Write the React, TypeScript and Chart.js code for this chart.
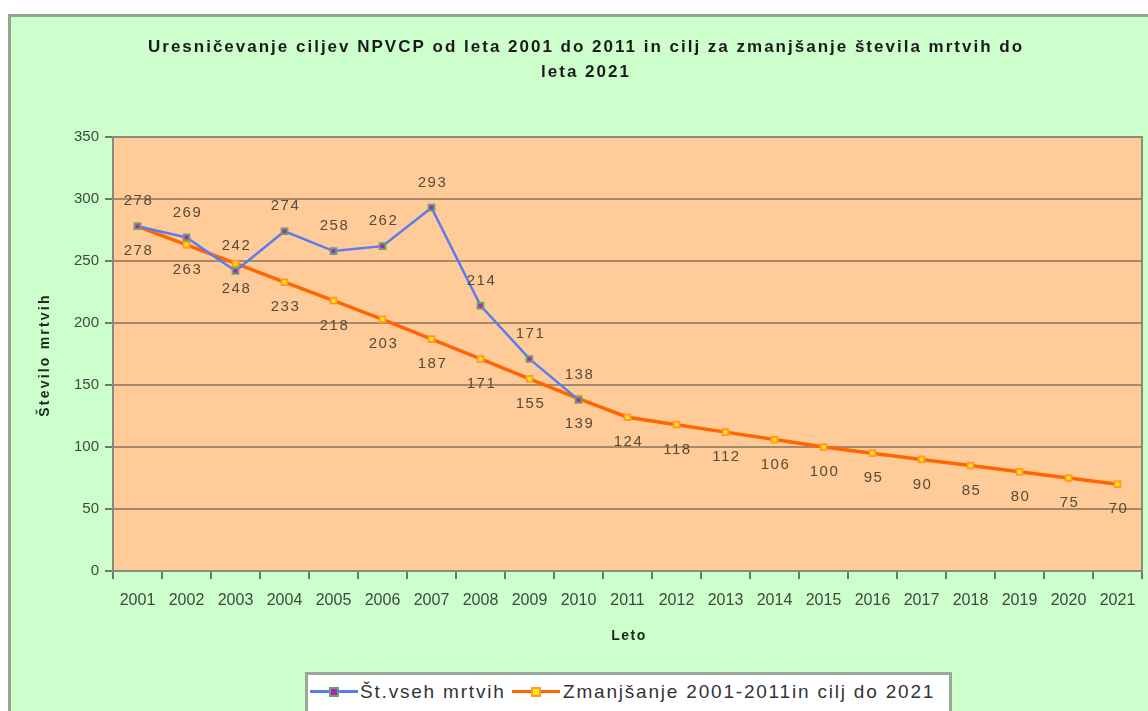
import { useEffect, useRef } from 'react';
import { Chart, registerables } from 'chart.js';

Chart.register(...registerables);

const years = ['2001','2002','2003','2004','2005','2006','2007','2008','2009','2010','2011','2012','2013','2014','2015','2016','2017','2018','2019','2020','2021'];
const actualDeaths = [278, 269, 242, 274, 258, 262, 293, 214, 171, 138];
const targetDeaths = [278, 263, 248, 233, 218, 203, 187, 171, 155, 139, 124, 118, 112, 106, 100, 95, 90, 85, 80, 75, 70];
const yTickMin = 0;
const yTickMax = 350;
const yTickStep = 50;
const titleLines = ['Uresničevanje ciljev NPVCP od leta 2001 do 2011 in cilj za zmanjšanje števila mrtvih do', 'leta 2021'];
const yTitle = 'Število mrtvih';
const xTitle = 'Leto';
const seriesNames = ['Št.vseh mrtvih', 'Zmanjšanje 2001-2011in cilj do 2021'];

const FONT = '"Liberation Sans", Arial, sans-serif';
const BLUE = '#5b7cf0';
const ORANGE = '#ff6600';
const TEXT = '#3c4a3c';
const LABEL = '#5a4a3a';

const decorPlugin = {
  id: 'decor',
  beforeDraw(chart: any) {
    const { ctx, chartArea: a } = chart;
    ctx.save();
    ctx.fillStyle = '#ffcc99';
    ctx.fillRect(a.left, a.top, a.right - a.left, a.bottom - a.top);
    ctx.restore();
  },
  afterDatasetsDraw(chart: any) {
    const { ctx, chartArea: a } = chart;
    ctx.save();
    ctx.strokeStyle = '#8a8a80';
    ctx.lineWidth = 2;
    ctx.strokeRect(a.left, a.top, a.right - a.left, a.bottom - a.top);
    ctx.font = `15px ${FONT}`;
    ctx.fillStyle = LABEL;
    ctx.textAlign = 'center';
    ctx.textBaseline = 'middle';
    (ctx as any).letterSpacing = '1.5px';
    chart.data.datasets.forEach((ds: any, di: number) => {
      const meta = chart.getDatasetMeta(di);
      meta.data.forEach((el: any, i: number) => {
        const v = ds.data[i];
        if (v == null) return;
        const dy = di === 0 ? -25 : 25;
        ctx.fillText(String(v), el.x + 1, el.y + dy);
      });
    });
    ctx.restore();
  },
  afterDraw(chart: any) {
    const { ctx, chartArea: a } = chart;
    ctx.save();
    ctx.fillStyle = '#1a1a1a';
    ctx.textAlign = 'center';
    ctx.textBaseline = 'middle';
    ctx.font = `bold 17px ${FONT}`;
    (ctx as any).letterSpacing = '2px';
    ctx.fillText(titleLines[0], 586, 47);
    ctx.fillText(titleLines[1], 586, 72);
    ctx.font = `bold 14px ${FONT}`;
    (ctx as any).letterSpacing = '1.5px';
    ctx.fillStyle = '#1a2a1a';
    ctx.fillText(xTitle, 629, 636);
    (ctx as any).letterSpacing = '2.2px';
    ctx.translate(45, 355);
    ctx.rotate(-Math.PI / 2);
    ctx.fillText(yTitle, 0, 0);
    ctx.restore();
  },
};

export default function App() {
  const ref = useRef<HTMLCanvasElement>(null);
  useEffect(() => {
    if (!ref.current) return;
    const chart = new Chart(ref.current, {
      type: 'line',
      data: {
        labels: years,
        datasets: [
          {
            label: seriesNames[0],
            data: actualDeaths,
            borderColor: BLUE,
            borderWidth: 2.5,
            pointStyle: 'rect',
            pointRadius: 4,
            pointBackgroundColor: '#b020c0',
            pointBorderColor: '#6aa070',
            pointBorderWidth: 2,
            tension: 0,
          },
          {
            label: seriesNames[1],
            data: targetDeaths,
            borderColor: ORANGE,
            borderWidth: 3.5,
            pointStyle: 'rect',
            pointRadius: 4,
            pointBackgroundColor: '#ffee00',
            pointBorderColor: '#ff9a30',
            pointBorderWidth: 2,
            tension: 0,
          },
        ],
      },
      options: {
        responsive: false,
        animation: false,
        layout: { padding: { top: 137, right: 3, left: 0, bottom: 0 } },
        plugins: { legend: { display: false }, title: { display: false }, tooltip: { enabled: false } },
        scales: {
          x: {
            type: 'category',
            offset: true,
            grid: { offset: true, drawOnChartArea: false, drawTicks: true, tickLength: 8, tickColor: '#6a7a6a', lineWidth: 2 },
            border: { display: true, color: '#6f6f68', width: 2 },
            ticks: { color: TEXT, font: { family: FONT, size: 16 }, padding: 12, maxRotation: 0, autoSkip: false },
            afterFit(scale: any) { scale.height = 140; },
          },
          y: {
            min: yTickMin,
            max: yTickMax,
            ticks: { stepSize: yTickStep, color: TEXT, font: { family: FONT, size: 15 }, padding: 6 },
            grid: { color: '#a8896a', lineWidth: 2, tickLength: 8, tickColor: '#6a7a6a' },
            border: { display: true, color: '#6a7a6a', width: 2 },
            afterFit(scale: any) { scale.width = 113; },
          },
        },
      },
      plugins: [decorPlugin],
    });
    return () => chart.destroy();
  }, []);

  const swatch = (left: number, color: string, fill: string, stroke: string) => (
    <span style={{ position: 'absolute', left, top: 10, width: 48, height: 14 }}>
      <span style={{ position: 'absolute', left: 0, right: 0, top: 5, height: 3, background: color }} />
      <span style={{ position: 'absolute', left: 19, top: 2, width: 6, height: 6, background: fill, border: `2px solid ${stroke}` }} />
    </span>
  );
  const txt = (left: number, s: string) => (
    <span style={{ position: 'absolute', left, top: 5, letterSpacing: '1.8px', lineHeight: '24px' }}>{s}</span>
  );

  return (
    <>
      <div style={{ position: 'absolute', left: 8, top: 14, width: 1148, height: 711, background: '#ccffcc', borderLeft: '3px solid #8fa88f', borderTop: '3px solid #8fa88f', boxSizing: 'border-box' }} />
      <div style={{ position: 'absolute', left: 305, top: 672, width: 647, height: 50, background: '#ffffff', border: '3px solid #9aa89a', boxSizing: 'border-box', fontFamily: FONT, fontSize: 19, color: '#333', whiteSpace: 'nowrap' }}>
        {swatch(2, BLUE, '#b020c0', '#6aa070')}
        {txt(52, seriesNames[0])}
        {swatch(204, ORANGE, '#ffee00', '#ff9a30')}
        {txt(255, seriesNames[1])}
      </div>
      <canvas ref={ref} width={1148} height={711} style={{ position: 'absolute', left: 0, top: 0, width: 1148, height: 711 }} />
    </>
  );
}
